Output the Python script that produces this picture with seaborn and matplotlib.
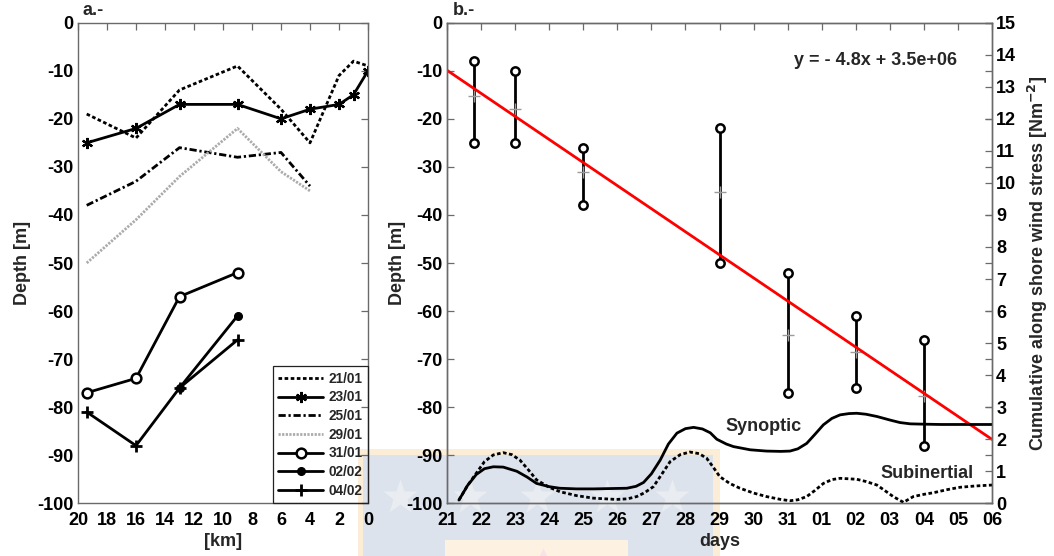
import matplotlib
matplotlib.use("Agg")
import matplotlib.pyplot as plt
from matplotlib.patches import Rectangle
import numpy as np
import seaborn as sns

# ---------------------------------------------------------------
# a.- Thermocline depth [m] along the cross-shore section [km]
# ---------------------------------------------------------------
section_dates = ["21/01", "23/01", "25/01", "29/01", "31/01", "02/02", "04/02"]

km_2101 = [19.4, 16, 13, 9, 6, 4, 2, 1, 0]
z_2101 = [-19, -24, -14, -9, -18, -25, -11, -8, -9]
km_2301 = [19.4, 16, 13, 9, 6, 4, 2, 1, 0]
z_2301 = [-25, -22, -17, -17, -20, -18, -17, -15, -10]
km_2501 = [19.4, 16, 13, 9, 6, 4]
z_2501 = [-38, -33, -26, -28, -27, -34]
km_2901 = [19.4, 16, 13, 9, 6, 4]
z_2901 = [-50, -41, -32, -22, -31, -35]
km_3101 = [19.4, 16, 13, 9]
z_3101 = [-77, -74, -57, -52]
km_0202 = [13, 9]
z_0202 = [-76, -61]
km_0402 = [19.4, 16, 13, 9]
z_0402 = [-81, -88, -76, -66]

# ---------------------------------------------------------------
# b.- Depth range per survey day and cumulative wind stress
# ---------------------------------------------------------------
# days counted from 1 January (32 = 01 Feb)
section_day = [21.8, 23, 25, 29, 31, 33, 35]

# linear trend of the thermocline depth
fit_slope = -4.8
fit_day0 = 21
fit_depth0 = -9.9
fit_day1 = 37

day_ticks = list(range(21, 38))
day_labels = ["21", "22", "23", "24", "25", "26", "27", "28", "29", "30",
              "31", "01", "02", "03", "04", "05", "06"]

syn_day = [21.35, 21.6, 21.86, 22.1, 22.36, 22.65, 23.05, 23.35, 23.63, 24.0,
           24.31, 24.8, 25.3, 25.8, 26.28, 26.55, 26.77, 27.0, 27.26, 27.5,
           27.75, 28.0, 28.24, 28.5, 28.73, 28.92, 29.2, 29.41, 29.9, 30.38,
           30.8, 31.07, 31.3, 31.56, 31.8, 32.05, 32.3, 32.54, 32.8, 33.03,
           33.3, 33.62, 34.0, 34.3, 34.6, 34.98, 35.5, 36.0, 36.5, 37.0]
syn_tau = [0.10, 0.55, 0.90, 1.08, 1.14, 1.13, 1.00, 0.82, 0.62, 0.52,
           0.47, 0.45, 0.45, 0.46, 0.47, 0.53, 0.65, 0.92, 1.35, 1.85,
           2.19, 2.33, 2.37, 2.32, 2.20, 2.00, 1.85, 1.77, 1.67, 1.63,
           1.62, 1.63, 1.70, 1.87, 2.15, 2.45, 2.65, 2.76, 2.80, 2.81,
           2.78, 2.71, 2.60, 2.52, 2.48, 2.47, 2.46, 2.46, 2.46, 2.46]

sub_day = [21.35, 21.6, 21.86, 22.1, 22.36, 22.65, 22.9, 23.14, 23.4, 23.63,
           24.0, 24.32, 24.8, 25.3, 25.98, 26.3, 26.57, 26.8, 27.06, 27.3,
           27.55, 27.85, 28.13, 28.4, 28.62, 28.8, 29.01, 29.3, 29.6, 30.0,
           30.38, 30.8, 31.07, 31.3, 31.56, 31.8, 32.05, 32.3, 32.54, 33.03,
           33.3, 33.62, 33.85, 34.1, 34.4, 34.69, 35.0, 35.28, 35.7, 36.06,
           36.5, 37.0]
sub_tau = [0.10, 0.55, 0.94, 1.30, 1.51, 1.58, 1.52, 1.35, 1.03, 0.73,
           0.50, 0.36, 0.24, 0.16, 0.12, 0.14, 0.21, 0.33, 0.52, 0.90,
           1.30, 1.52, 1.60, 1.55, 1.41, 1.15, 0.83, 0.62, 0.47, 0.32,
           0.21, 0.12, 0.08, 0.11, 0.21, 0.40, 0.62, 0.74, 0.78, 0.75,
           0.68, 0.57, 0.40, 0.21, 0.03, 0.21, 0.28, 0.33, 0.43, 0.50,
           0.54, 0.57]

# ---------------------------------------------------------------
sns.set_style("white")
plt.rcParams["font.family"] = ["Liberation Sans", "DejaVu Sans"]
plt.rcParams["font.weight"] = "bold"
plt.rcParams["axes.labelweight"] = "bold"
plt.rcParams["axes.unicode_minus"] = False
plt.rcParams["lines.scale_dashes"] = True

AXC = "#6a6a6a"
FS = 13

fig = plt.figure(figsize=(10.54, 5.56), dpi=100)
fig.patch.set_facecolor("white")

# faint emblem in the lower middle of the page
bg = fig.add_axes([0, 0, 1, 1], zorder=-10)
bg.set_xlim(0, 1054)
bg.set_ylim(556, 0)
bg.axis("off")
bg.add_patch(Rectangle((358, 449), 362, 110, color="#fcedd6", lw=0))
bg.add_patch(Rectangle((363, 455), 350, 110, color="#dde3ec", lw=0))
bg.plot([400, 470, 537, 607, 672], [497, 497, 497, 497, 497], ls="none",
        marker="*", ms=26, color="#e9edf2", mec="none")
bg.add_patch(Rectangle((445, 540), 183, 20, color="#fdf1e2", lw=0))
bg.plot([543], [553], ls="none", marker="^", ms=7, color="#f8e2e6", mec="none")

ax1 = fig.add_axes([78 / 1054, 1 - 503.3 / 556, 290 / 1054, 480.6 / 556])
ax2 = fig.add_axes([447 / 1054, 1 - 503.3 / 556, 545 / 1054, 480.6 / 556])
for ax in (ax1, ax2):
    ax.set_facecolor("none")

styles = [
    dict(color="black", lw=2.0, linestyle=(0, (1.3, 0.9)), marker=None),
    dict(color="black", lw=2.0, linestyle="-", marker=(6, 2, 0), markersize=8,
         markeredgecolor="black", markeredgewidth=1.6),
    dict(color="black", lw=2.0, linestyle=(0, (2.6, 1.0, 0.8, 1.0)), marker=None),
    dict(color="#ababab", lw=2.0, linestyle=(0, (0.8, 0.5)), marker=None),
    dict(color="black", lw=2.0, linestyle="-", marker="o", markersize=7,
         markerfacecolor="white", markeredgecolor="black", markeredgewidth=1.8),
    dict(color="black", lw=2.0, linestyle="-", marker="o", markersize=5.5,
         markerfacecolor="black", markeredgecolor="black", markeredgewidth=1),
    dict(color="black", lw=2.0, linestyle="-", marker="+", markersize=9,
         markeredgecolor="black", markeredgewidth=2.0),
]
profiles = [(km_2101, z_2101), (km_2301, z_2301), (km_2501, z_2501),
            (km_2901, z_2901), (km_3101, z_3101), (km_0202, z_0202),
            (km_0402, z_0402)]

for (km, z), lab, st in zip(profiles, section_dates, styles):
    sns.lineplot(x=km, y=z, ax=ax1, estimator=None, sort=False,
                 label=lab, legend=False, **st)

ax1.set_xlim(20, 0)
ax1.set_ylim(-100, 0)
ax1.set_xticks(range(20, -1, -2))
ax1.set_yticks(range(-100, 1, 10))
ax1.set_xlabel("[km]", fontsize=FS, labelpad=3)
ax1.set_ylabel("Depth [m]", fontsize=FS, labelpad=5)
ax1.text(0.017, 1.008, "a.-", transform=ax1.transAxes, fontsize=FS,
         fontweight="bold", ha="left", va="bottom")

handles = ax1.get_lines()
leg = ax1.legend(handles=handles, labels=section_dates, loc="lower right",
                 borderaxespad=0, fancybox=False, framealpha=1,
                 prop=dict(size=9.8, weight="bold"), handlelength=3.3,
                 handletextpad=0.35, labelspacing=0.34, borderpad=0.42)
leg.get_frame().set_edgecolor("#222222")
leg.get_frame().set_linewidth(0.9)
leg.get_frame().set_facecolor("none")

# ---------------- panel b ----------------
all_z = [z_2101, z_2301, z_2501, z_2901, z_3101, z_0202, z_0402]
z_top = [max(z) for z in all_z]
z_bot = [min(z) for z in all_z]
z_mean = [float(np.mean(z)) for z in all_z]

for d, lo, hi in zip(section_day, z_bot, z_top):
    sns.lineplot(x=[d, d], y=[lo, hi], ax=ax2, estimator=None, sort=False,
                 color="black", lw=2.0, marker="o", markersize=6,
                 markerfacecolor="white", markeredgecolor="black",
                 markeredgewidth=1.8, legend=False)
ax2.plot(section_day, z_mean, ls="none", marker="+", ms=9, mew=1.0,
         color="#9a9a9a", zorder=3)

sns.lineplot(x=[fit_day0, fit_day1],
             y=[fit_depth0, fit_depth0 + fit_slope * (fit_day1 - fit_day0)],
             ax=ax2, color="#ff0000", lw=2.0, legend=False, zorder=4)

ax2.set_xlim(21, 37)
ax2.set_ylim(-100, 0)
ax2.set_xticks(day_ticks)
ax2.set_xticklabels(day_labels)
ax2.set_yticks(range(-100, 1, 10))
ax2.set_xlabel("days", fontsize=FS, labelpad=3)
ax2.set_ylabel("Depth [m]", fontsize=FS, labelpad=0)
ax2.text(0.011, 1.008, "b.-", transform=ax2.transAxes, fontsize=FS,
         fontweight="bold", ha="left", va="bottom")
ax2.text(0.787, 0.922, "y = - 4.8x + 3.5e+06", transform=ax2.transAxes,
         fontsize=FS, fontweight="bold", ha="center", va="center")

ax2b = ax2.twinx()
sns.lineplot(x=syn_day, y=syn_tau, ax=ax2b, estimator=None, sort=False,
             color="black", lw=2.0, legend=False)
sns.lineplot(x=sub_day, y=sub_tau, ax=ax2b, estimator=None, sort=False,
             color="black", lw=2.0, linestyle=(0, (1.3, 0.9)), legend=False)
ax2b.set_ylim(0, 15)
ax2b.set_yticks(range(0, 16))
ax2b.set_ylabel("Cumulative along shore wind stress [Nm$^{\\mathbf{-2}}$]",
                fontsize=FS, labelpad=7)
ax2b.text(30.3, 2.4, "Synoptic", fontsize=FS, fontweight="bold",
          ha="center", va="center")
ax2b.text(35.1, 0.92, "Subinertial", fontsize=FS, fontweight="bold",
          ha="center", va="center")

for ax in (ax1, ax2, ax2b):
    for sp in ax.spines.values():
        sp.set_color(AXC)
        sp.set_linewidth(1.0)
    ax.tick_params(direction="in", length=5, width=0.9, color=AXC,
                   labelsize=FS, pad=3, labelcolor="black")
    ax.tick_params(axis="x", pad=6.5)
for ax in (ax1, ax2):
    ax.tick_params(top=True, right=True)
ax2b.tick_params(left=False)
for ax in (ax1, ax2, ax2b):
    for lab in ax.get_xticklabels() + ax.get_yticklabels():
        lab.set_fontweight("bold")

fig.savefig("out.png", dpi=100, facecolor="white")
